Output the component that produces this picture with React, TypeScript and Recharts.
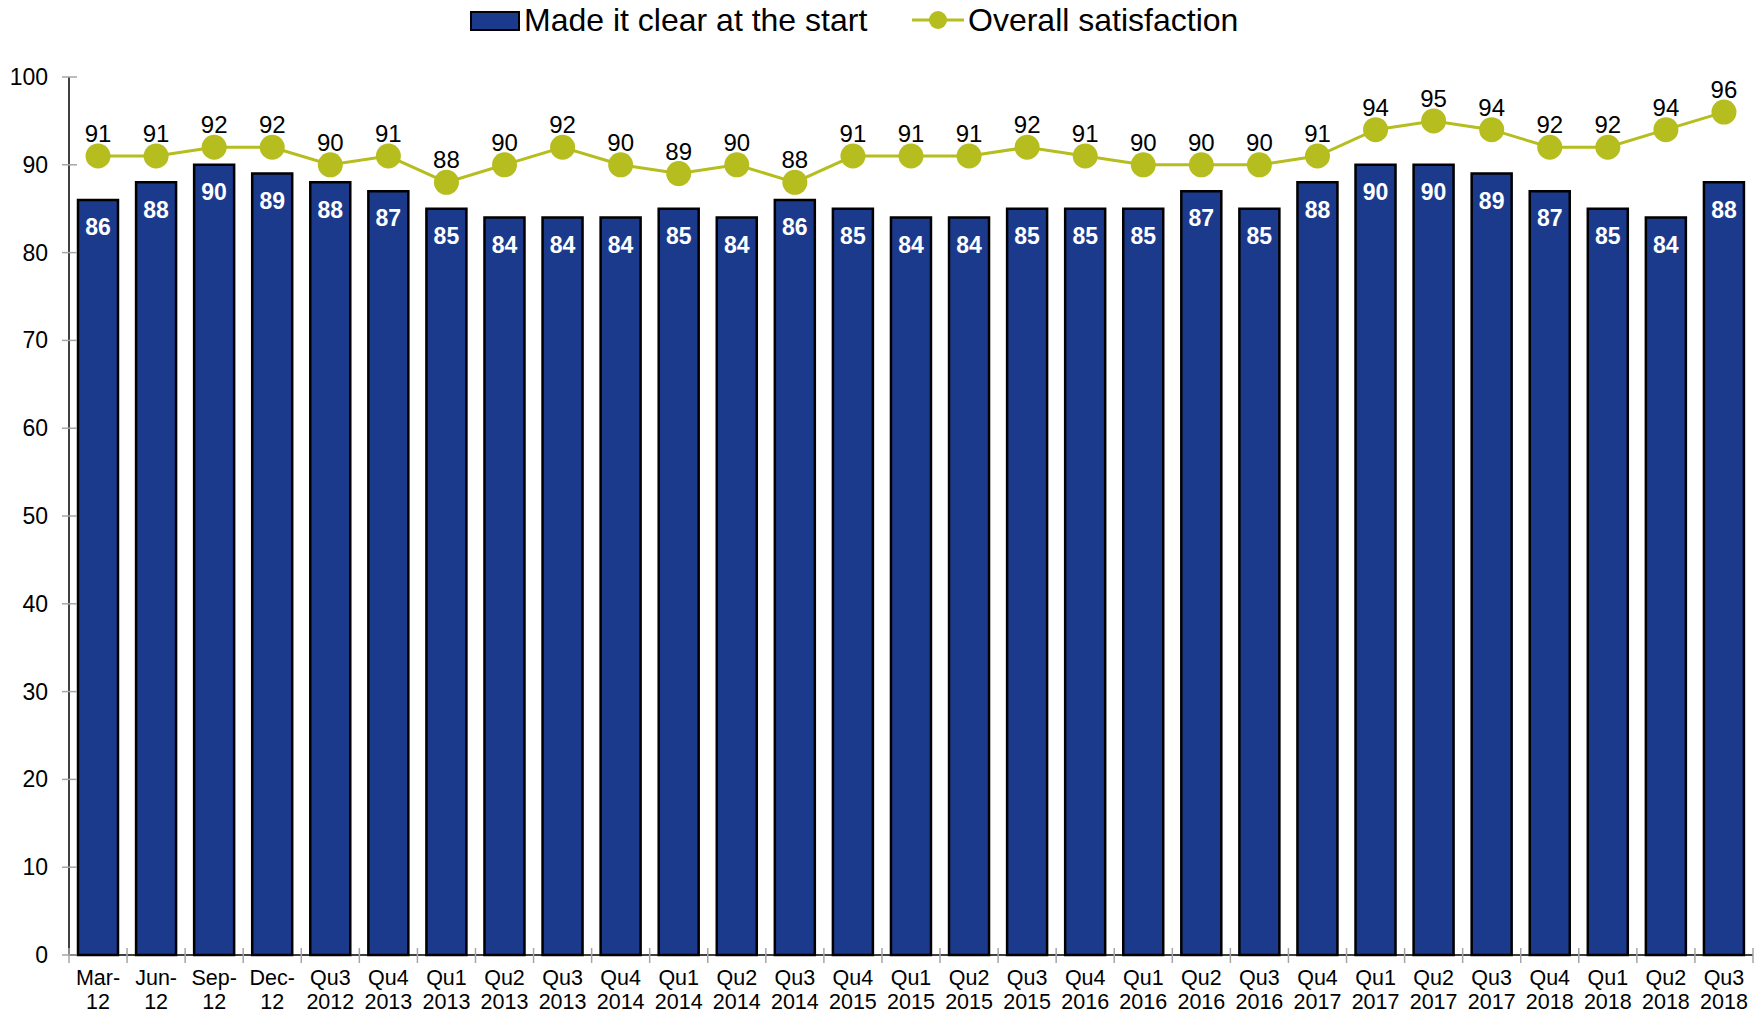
import React from "react";
import { ComposedChart, Bar, Line, XAxis, YAxis, LabelList } from "recharts";

const periods = [
  "Mar-12", "Jun-12", "Sep-12", "Dec-12", "Qu3 2012", "Qu4 2013", "Qu1 2013", "Qu2 2013",
  "Qu3 2013", "Qu4 2014", "Qu1 2014", "Qu2 2014", "Qu3 2014", "Qu4 2015", "Qu1 2015",
  "Qu2 2015", "Qu3 2015", "Qu4 2016", "Qu1 2016", "Qu2 2016", "Qu3 2016", "Qu4 2017",
  "Qu1 2017", "Qu2 2017", "Qu3 2017", "Qu4 2018", "Qu1 2018", "Qu2 2018", "Qu3 2018",
];

const clearAtStart = [
  86, 88, 90, 89, 88, 87, 85, 84, 84, 84, 85, 84, 86, 85, 84, 84, 85, 85, 85, 87, 85, 88,
  90, 90, 89, 87, 85, 84, 88,
];

const overallSatisfaction = [
  91, 91, 92, 92, 90, 91, 88, 90, 92, 90, 89, 90, 88, 91, 91, 91, 92, 91, 90, 90, 90, 91,
  94, 95, 94, 92, 92, 94, 96,
];

const yTicks = [0, 10, 20, 30, 40, 50, 60, 70, 80, 90, 100];

const BLUE = "#1B3A8C";
const GREEN = "#B5BD1F";
const GREY = "#A6A6A6";
const FONT = "'Liberation Sans', Arial, sans-serif";

const W = 1762;
const H = 1016;
const LEFT = 69;
const RIGHT = 9;
const BAND = (W - LEFT - RIGHT) / periods.length;

const data = periods.map((p, i) => ({
  period: p,
  clear: clearAtStart[i],
  overall: overallSatisfaction[i],
}));

function splitLabel(s: string): [string, string] {
  if (s.includes(" ")) {
    const [a, b] = s.split(" ");
    return [a, b];
  }
  const k = s.indexOf("-");
  return [s.slice(0, k + 1), s.slice(k + 1)];
}

const XTick = (props: any) => {
  const { x, y, payload, index } = props;
  const [a, b] = splitLabel(String(payload.value));
  const axisY = y - 10;
  return (
    <g>
      {index === 0 && (
        <line x1={x - BAND / 2} x2={x - BAND / 2} y1={axisY - 7} y2={axisY + 8} stroke={GREY} strokeWidth={1.5} />
      )}
      <line x1={x + BAND / 2} x2={x + BAND / 2} y1={axisY - 7} y2={axisY + 8} stroke={GREY} strokeWidth={1.5} />
      <text x={x} y={axisY + 30} textAnchor="middle" fontSize={21.5} fill="#000" fontFamily={FONT}>
        {a}
      </text>
      <text x={x} y={axisY + 54} textAnchor="middle" fontSize={21.5} fill="#000" fontFamily={FONT}>
        {b}
      </text>
    </g>
  );
};

const YTick = (props: any) => {
  const { x, y, payload } = props;
  const axisX = x + 21;
  return (
    <g>
      <line x1={axisX - 7} x2={axisX + 8} y1={y} y2={y} stroke={GREY} strokeWidth={1.5} />
      <text x={x} y={y + 8} textAnchor="end" fontSize={23} fill="#000" fontFamily={FONT}>
        {payload.value}
      </text>
    </g>
  );
};

const ChartLegend = () => (
  <div
    style={{
      position: "absolute",
      left: 0,
      top: 0,
      width: W,
      height: 40,
      fontFamily: FONT,
      fontSize: 32,
      color: "#000",
    }}
  >
    <div
      style={{
        position: "absolute",
        left: 470,
        top: 11,
        width: 46,
        height: 16,
        background: BLUE,
        border: "2px solid #000",
      }}
    />
    <div style={{ position: "absolute", left: 524, top: 1, lineHeight: "38px", whiteSpace: "nowrap" }}>
      Made it clear at the start
    </div>
    <svg style={{ position: "absolute", left: 910, top: 8 }} width={56} height={24}>
      <line x1={2} x2={54} y1={12} y2={12} stroke={GREEN} strokeWidth={3} />
      <circle cx={28} cy={12} r={9} fill={GREEN} />
    </svg>
    <div style={{ position: "absolute", left: 968, top: 1, lineHeight: "38px", whiteSpace: "nowrap" }}>
      Overall satisfaction
    </div>
  </div>
);

export default function App() {
  return (
    <div style={{ position: "absolute", left: 0, top: 0, width: W, height: H, background: "#fff" }}>
      <ComposedChart
        width={W}
        height={H}
        data={data}
        margin={{ top: 77, right: RIGHT, left: 0, bottom: 0 }}
        style={{ fontFamily: FONT }}
      >
        <XAxis
          dataKey="period"
          height={61}
          interval={0}
          tickSize={8}
          tickMargin={2}
          tickLine={false}
          tick={<XTick />}
          axisLine={{ stroke: "#000", strokeWidth: 1.5 }}
        />
        <YAxis
          width={LEFT}
          domain={[0, 100]}
          ticks={yTicks}
          tickSize={8}
          tickMargin={13}
          tickLine={false}
          tick={<YTick />}
          axisLine={{ stroke: "#000", strokeWidth: 1.5 }}
        />
        <Bar dataKey="clear" fill={BLUE} stroke="#000" strokeWidth={2.5} barSize={40} isAnimationActive={false}>
          <LabelList
            dataKey="clear"
            position="insideTop"
            offset={19}
            fill="#fff"
            fontSize={23}
            fontWeight="bold"
            fontFamily={FONT}
          />
        </Bar>
        <Line
          dataKey="overall"
          stroke={GREEN}
          strokeWidth={3}
          dot={{ r: 12.5, fill: GREEN, stroke: "none" }}
          activeDot={false}
          isAnimationActive={false}
        >
          <LabelList dataKey="overall" position="top" offset={14} fill="#000" fontSize={24} fontFamily={FONT} />
        </Line>
      </ComposedChart>
      <ChartLegend />
    </div>
  );
}
